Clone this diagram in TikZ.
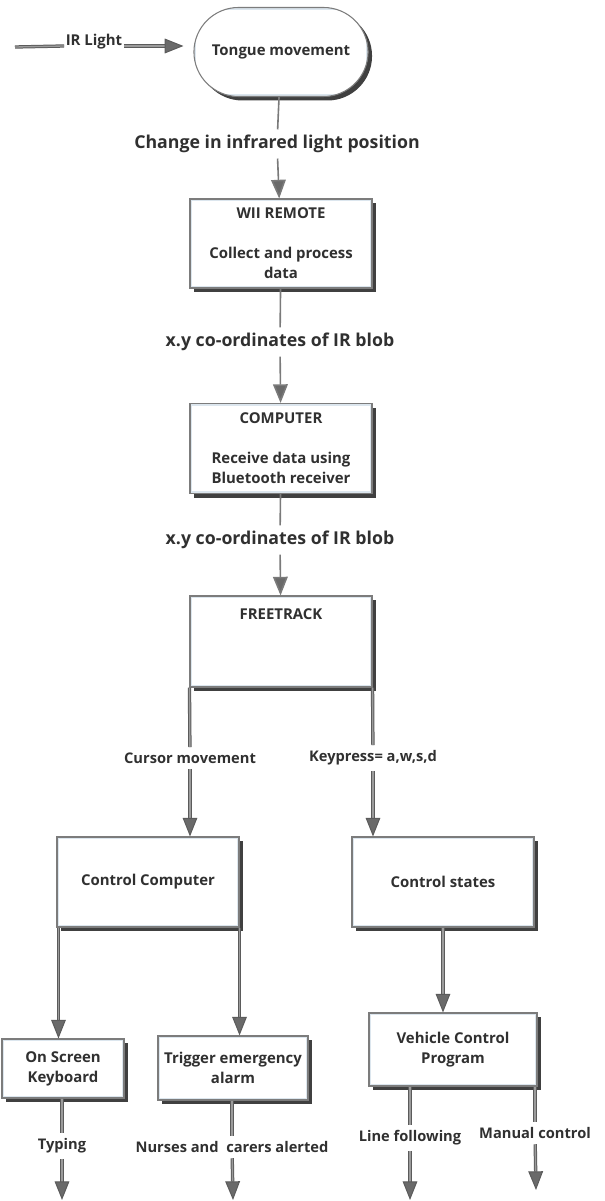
\documentclass[tikz,border=0pt]{standalone}
\usepackage{fontspec}
\setmainfont{Open Sans}
\usetikzlibrary{arrows.meta,shapes.misc}
\definecolor{txt}{HTML}{303030}
\definecolor{edgec}{HTML}{7A7A7A}
\definecolor{boxline}{HTML}{7C7C7C}
\definecolor{bevel}{HTML}{DCE6EE}
\definecolor{tipc}{HTML}{6A6A6A}
\definecolor{shad}{HTML}{404040}
\begin{document}
\begin{tikzpicture}[x=0.75pt,y=-0.75pt,
  font=\bfseries\fontsize{11.2}{15}\selectfont, text=txt,
  boxshape/.style={draw=boxline, line width=0.8pt, fill=white, align=center,
    preaction={draw=none, fill=shad, transform canvas={shift={(3pt,-3pt)}}},
    path picture={\draw[bevel,line width=3.5pt] (path picture bounding box.south west) rectangle (path picture bounding box.north east);}},
  lab/.style={font=\bfseries\fontsize{11}{13}\selectfont, inner sep=4pt},
  bigl/.style={font=\bfseries\fontsize{13.3}{15}\selectfont, inner sep=4pt},
  conn/.style={draw=edgec, line width=1.2pt},
  dconn/.style={draw=edgec!75!black, line width=0.75pt, double=edgec!75, double distance=1pt},
  tip/.style={-{Triangle[length=14pt,width=11pt,fill=tipc]}},
]
\useasboundingbox (0,0) rectangle (604,1201);
% top input
\coordinate (irs) at (15,47);
\node[font=\bfseries\fontsize{11.2}{13}\selectfont, inner sep=1pt, anchor=base] (irl) at (94,46) {IR Light};
\node[boxshape, rounded rectangle, minimum width=183*0.75pt, minimum height=89*0.75pt] (tongue) at (281,52) {Tongue movement};
\draw[dconn] (irs) -- (irl.base west);
\draw[dconn, tip, shorten >=7.5pt] (irl.base east) -- (tongue.west |- irl.base);
% chain
\node[bigl] (chg) at (277,144) {Change in infrared light position};
\node[boxshape, minimum width=182*0.75pt, minimum height=89*0.75pt] (wii) at (281,243.5) {WII REMOTE\\[15pt]Collect and process\\data};
\node[bigl] (xy1) at (280,342) {x.y co-ordinates of IR blob};
\node[boxshape, minimum width=182*0.75pt, minimum height=90*0.75pt] (comp) at (281,448.5) {COMPUTER\\[15pt]Receive data using\\Bluetooth receiver};
\node[bigl] (xy2) at (280,540) {x.y co-ordinates of IR blob};
\node[boxshape, minimum width=182*0.75pt, minimum height=91*0.75pt,
  label={[anchor=north, inner sep=0pt, yshift=-10pt]north:FREETRACK}] (ft) at (281,641.5) {};
\draw[conn] (tongue) -- (chg);
\draw[conn, tip] (chg) -- (wii);
\draw[conn] (wii) -- (xy1);
\draw[conn, tip] (xy1) -- (comp);
\draw[conn] (comp) -- (xy2);
\draw[conn, tip] (xy2) -- (ft);
% second level
\node[lab] (cur) at (190,758) {Cursor movement};
\node[lab] (key) at (373,758) {Keypress= a,w,s,d};
\node[boxshape, minimum width=182*0.75pt, minimum height=90*0.75pt] (cc) at (148,882) {Control Computer};
\node[boxshape, minimum width=182*0.75pt, minimum height=90*0.75pt] (cs) at (443,882) {Control states};
\draw[dconn] (ft.south west) -- (cur);
\draw[dconn, tip] (cur) -- (cur |- cc.north);
\draw[dconn] (ft.south east) -- (key);
\draw[dconn, tip] (key) -- (key |- cs.north);
% third level
\node[boxshape, minimum width=122*0.75pt, minimum height=59*0.75pt] (osk) at (63,1068.5) {On Screen\\Keyboard};
\node[boxshape, minimum width=150*0.75pt, minimum height=64*0.75pt] (tea) at (233,1068) {Trigger emergency\\alarm};
\node[boxshape, minimum width=168*0.75pt, minimum height=73*0.75pt] (vcp) at (453,1049.5) {Vehicle Control\\Program};
\draw[dconn, tip] ([xshift=1.5pt]cc.south west) -- ([xshift=1.5pt]cc.south west |- osk.north);
\draw[dconn, tip] (cc.south east) -- (cc.south east |- tea.north);
\draw[dconn, tip] (cs.south) -- (cs.south |- vcp.north);
% outputs
\node[lab] (typ) at (62,1146) {Typing};
\node[lab] (nur) at (232,1147) {Nurses and \ carers alerted};
\node[lab] (lin) at (410,1138) {Line following};
\node[lab] (man) at (535,1133) {Manual control};
\coordinate (e1) at (62,1200);
\coordinate (e2) at (233,1200);
\coordinate (e3) at (410,1200);
\coordinate (e4) at (536,1190);
\draw[dconn] (osk.south -| typ) -- (typ);
\draw[dconn, tip] (typ) -- (e1);
\draw[dconn] (tea.south -| nur) -- (nur);
\draw[dconn, tip] (nur) -- (e2);
\draw[dconn] (vcp.south -| lin) -- (lin);
\draw[dconn, tip] (lin) -- (e3);
\draw[dconn] (vcp.south east -| man) -- (man);
\draw[dconn, tip] (man) -- (e4);
\end{tikzpicture}
\end{document}
